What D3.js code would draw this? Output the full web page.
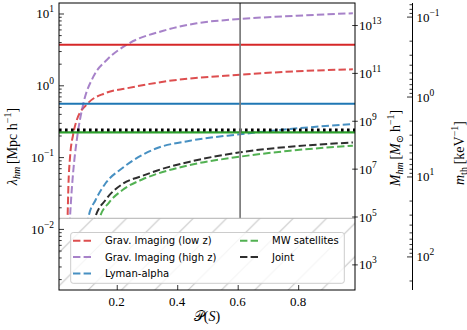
<!DOCTYPE html>
<html>
<head>
<meta charset="utf-8">
<script src="https://cdn.jsdelivr.net/npm/d3@7"></script>
<style>
body { margin: 0; background: #fff; }
</style>
</head>
<body>
<script>
// ---- data ----
// dashed curves: P(S) values and lambda_hm [Mpc/h]
var lowzP   = [0.034, 0.0374, 0.040, 0.0456, 0.0555, 0.0678, 0.1035, 0.161, 0.233, 0.354, 0.608, 0.795, 0.981];
var lowzLam = [0.008, 0.0148, 0.0387, 0.1014, 0.203, 0.329, 0.555, 0.774, 0.908, 1.122, 1.406, 1.567, 1.671];

var highzP   = [0.043, 0.0456, 0.0489, 0.0565, 0.0678, 0.0896, 0.1226, 0.1669, 0.2331, 0.354, 0.4645, 0.6076, 0.795, 0.981];
var highzLam = [0.008, 0.0148, 0.0253, 0.0661, 0.173, 0.558, 1.318, 2.249, 3.673, 5.754, 7.311, 8.375, 9.311, 10.07];

var lyaP   = [0.098, 0.1068, 0.130, 0.163, 0.219, 0.284, 0.332, 0.442, 0.608, 0.773, 0.981];
var lyaLam = [0.008, 0.0148, 0.0253, 0.0432, 0.0705, 0.1069, 0.1327, 0.169, 0.208, 0.246, 0.289];

var jointP   = [0.118, 0.128, 0.163, 0.219, 0.284, 0.332, 0.442, 0.608, 0.773, 0.981];
var jointLam = [0.008, 0.0141, 0.0253, 0.0422, 0.0546, 0.0647, 0.0863, 0.1167, 0.1396, 0.1596];

var mwP   = [0.133, 0.143, 0.1745, 0.219, 0.284, 0.332, 0.442, 0.608, 0.773, 0.981];
var mwLam = [0.008, 0.0141, 0.0233, 0.0348, 0.0488, 0.0582, 0.0776, 0.1014, 0.1227, 0.1442];

// solid / dotted horizontal levels
var lowzLevel  = 3.68;
var lyaLevel   = 0.554;
var jointLevel = 0.238;
var mwLevel    = 0.2215;

var pMark  = 0.608;     // vertical grey line
var lamCut = 0.01406;   // top of hatched region

var xTicks   = [0.2, 0.4, 0.6, 0.8];
var yTicks   = [0.01, 0.1, 1, 10];
var yExp     = ["\u22122", "\u22121", "0", "1"];
var mTicks   = [1e3, 1e5, 1e7, 1e9, 1e11, 1e13];
var mExp     = ["3", "5", "7", "9", "11", "13"];
var mthTicks = [0.1, 1, 10, 100];
var mthExp   = ["\u22121", "0", "1", "2"];

var legendNames  = ["Grav. Imaging (low z)", "Grav. Imaging (high z)", "Lyman-alpha", "MW satellites", "Joint"];
var legendColors = ["#d62728", "#9467bd", "#1f77b4", "#2ca02c", "#000000"];

// ---- setup ----
var w = 467, h = 330;
var L = 59, R = 355, T = 3, B = 290;
var serif = "'Liberation Serif', 'DejaVu Serif', serif";
var sans = "'DejaVu Sans', sans-serif";

var svg = d3.select("body").append("svg").attr("width", w).attr("height", h)
  .style("background-color", "white");

var x = d3.scaleLinear().domain([0.009, 0.988]).range([L, R]);
var y = d3.scaleLog().domain([0.00141, 14.0]).range([B, T]);
var yM = d3.scaleLog().domain([Math.pow(10, 1.93), Math.pow(10, 13.92)]).range([B, T]);
var yMth = d3.scaleLog().domain([0.0676, 263]).range([T, B]);

var defs = svg.append("defs");
defs.append("clipPath").attr("id", "plotclip").append("rect")
  .attr("x", L).attr("y", T).attr("width", R - L).attr("height", B - T);

// hatch '/' pattern
var hs = 33.33;
var pat = defs.append("pattern").attr("id", "hatch").attr("patternUnits", "userSpaceOnUse")
  .attr("width", hs).attr("height", hs).attr("patternTransform", "translate(11.6,0)");
pat.append("path")
  .attr("d", "M0," + hs + "L" + hs + ",0M-2,2L2,-2M" + (hs - 2) + "," + (hs + 2) + "L" + (hs + 2) + "," + (hs - 2))
  .attr("stroke", "#c4c4c4").attr("stroke-width", 1);

var plot = svg.append("g").attr("clip-path", "url(#plotclip)");

function pts(ps, ls) { return ps.map(function (p, i) { return [p, ls[i]]; }); }
var line = d3.line().x(function (d) { return x(d[0]); }).y(function (d) { return y(d[1]); })
  .curve(d3.curveMonotoneX);

var dashed = [
  [pts(mwP, mwLam), legendColors[3]],
  [pts(jointP, jointLam), legendColors[4]],
  [pts(lyaP, lyaLam), legendColors[2]],
  [pts(lowzP, lowzLam), legendColors[0]],
  [pts(highzP, highzLam), legendColors[1]]
];
dashed.forEach(function (s) {
  plot.append("path").datum(s[0]).attr("d", line)
    .attr("fill", "none").attr("stroke", s[1]).attr("stroke-width", 2)
    .attr("stroke-opacity", 0.82).attr("stroke-dasharray", "7.4,3.2");
});

// horizontal levels
function hline(v, color, dash, sw) {
  var l = plot.append("line").attr("x1", L).attr("x2", R).attr("y1", y(v)).attr("y2", y(v))
    .attr("stroke", color).attr("stroke-width", sw);
  if (dash) l.attr("stroke-dasharray", dash);
}
hline(lowzLevel, legendColors[0], null, 2);
hline(lyaLevel, legendColors[2], null, 2);
hline(mwLevel, legendColors[3], null, 2.2);
hline(jointLevel, "#000", "2.6,3.4", 3);

// vertical line
plot.append("line").attr("x1", x(pMark)).attr("x2", x(pMark)).attr("y1", T).attr("y2", B)
  .attr("stroke", "#7a7a7a").attr("stroke-width", 1.7);

// hatched excluded region
plot.append("rect").attr("x", L).attr("y", y(lamCut)).attr("width", R - L).attr("height", B - y(lamCut))
  .attr("fill", "white");
plot.append("rect").attr("x", L).attr("y", y(lamCut)).attr("width", R - L).attr("height", B - y(lamCut))
  .attr("fill", "url(#hatch)");
plot.append("line").attr("x1", L).attr("x2", R).attr("y1", y(lamCut)).attr("y2", y(lamCut))
  .attr("stroke", "#b0b0b0").attr("stroke-width", 1);

// ---- axes ----
function clean(g) {
  g.select(".domain").remove();
  g.selectAll(".tick line").attr("stroke", "#000").attr("stroke-width", 0.8);
}
function minorOf(sc) {
  return sc.ticks(40).filter(function (v) {
    var e = Math.log10(v); return Math.abs(e - Math.round(e)) > 1e-6;
  });
}

svg.append("g").attr("transform", "translate(" + L + ",0)")
  .call(d3.axisLeft(y).tickValues(yTicks).tickSizeInner(-5).tickSizeOuter(0).tickFormat(""))
  .call(clean);
svg.append("g").attr("transform", "translate(" + L + ",0)")
  .call(d3.axisLeft(y).tickValues(minorOf(y)).tickSizeInner(-2.7).tickSizeOuter(0).tickFormat(""))
  .call(clean);
svg.append("g").attr("transform", "translate(0," + B + ")")
  .call(d3.axisBottom(x).tickValues(xTicks).tickSizeInner(-5).tickSizeOuter(0).tickFormat(""))
  .call(clean);
// M axis: ticks in and out
svg.append("g").attr("transform", "translate(" + R + ",0)")
  .call(d3.axisRight(yM).tickValues(mTicks).tickSizeInner(2.8).tickSizeOuter(0).tickFormat(""))
  .call(clean);
svg.append("g").attr("transform", "translate(" + R + ",0)")
  .call(d3.axisRight(yM).tickValues(mTicks).tickSizeInner(-2.8).tickSizeOuter(0).tickFormat(""))
  .call(clean);
// m_th axis
var mx = 412.5;
svg.append("g").attr("transform", "translate(" + mx + ",0)")
  .call(d3.axisRight(yMth).tickValues(mthTicks).tickSizeInner(-5.5).tickSizeOuter(0).tickFormat(""))
  .call(clean);
svg.append("g").attr("transform", "translate(" + mx + ",0)")
  .call(d3.axisRight(yMth).tickValues(minorOf(yMth)).tickSizeInner(-3).tickSizeOuter(0).tickFormat(""))
  .call(clean);
svg.append("line").attr("x1", mx).attr("x2", mx).attr("y1", T).attr("y2", B)
  .attr("stroke", "#000").attr("stroke-width", 1);

// frame
svg.append("rect").attr("x", L).attr("y", T).attr("width", R - L).attr("height", B - T)
  .attr("fill", "none").attr("stroke", "#000").attr("stroke-width", 1);

// tick labels
function powText(sel, e) {
  sel.append("tspan").text("10");
  sel.append("tspan").attr("dy", -6).attr("font-size", 9.5).text(e);
}
yTicks.forEach(function (v, i) {
  svg.append("text").attr("x", L - 5).attr("y", y(v) + 5).attr("text-anchor", "end")
    .attr("font-family", serif).attr("font-size", 13).call(powText, yExp[i]);
});
mTicks.forEach(function (v, i) {
  svg.append("text").attr("x", R + 4).attr("y", yM(v) + 5)
    .attr("font-family", serif).attr("font-size", 13).call(powText, mExp[i]);
});
mthTicks.forEach(function (v, i) {
  svg.append("text").attr("x", mx + 4).attr("y", yMth(v) + 5)
    .attr("font-family", serif).attr("font-size", 13).call(powText, mthExp[i]);
});
xTicks.forEach(function (v) {
  svg.append("text").attr("x", x(v)).attr("y", 305.5).attr("text-anchor", "middle")
    .attr("font-family", serif).attr("font-size", 13).text(d3.format(".1f")(v));
});

// axis titles
function mathLabel(tx, ty, parts, rot) {
  var t = svg.append("text").attr("font-family", serif).attr("font-size", 14)
    .attr("text-anchor", "middle")
    .attr("transform", "translate(" + tx + "," + ty + ")" + (rot ? " rotate(-90)" : ""));
  parts.forEach(function (p) {
    var s = t.append("tspan").text(p[0]);
    if (p[1]) s.attr("font-style", "italic");
    if (p[2]) s.attr("dy", p[2]);
    if (p[3]) s.attr("font-size", p[3]);
  });
}
mathLabel(17, 146.5, [["\u03bb", 1], ["hm", 1, 3, 10], ["\u2009[Mpc h", 0, -3], ["\u22121", 0, -6, 10], ["]", 0, 6]], true);
mathLabel(399.5, 148, [["M", 1], ["hm", 1, 3, 10], ["\u2009[", 0, -3], ["M", 1], ["\u2299", 0, 3, 10], ["\u2009h", 0, -3], ["\u22121", 0, -6, 10], ["]", 0, 6]], true);
mathLabel(463.5, 153, [["m", 1], ["th", 0, 3, 10], ["\u2009[keV", 0, -3], ["\u22121", 0, -6, 10], ["]", 0, 6]], true);
mathLabel(207, 321, [["\ud835\udcab", 0], ["(", 0], ["S", 1], [")", 0]], false);

// ---- legend ----
var lg = svg.append("g");
lg.append("rect").attr("x", 70.7).attr("y", 232.5).attr("width", 344.3 - 70.7).attr("height", 283.3 - 232.5)
  .attr("rx", 2.5).attr("fill", "white").attr("fill-opacity", 0.8)
  .attr("stroke", "#cccccc").attr("stroke-width", 1);
var order = [0, 1, 2, 3, 4];
order.forEach(function (k) {
  var col = k < 3 ? 0 : 1, row = k < 3 ? k : k - 3;
  var hx = col === 0 ? 73 : 240, ty = 240.7 + row * 16.4;
  lg.append("line").attr("x1", hx).attr("x2", hx + 20).attr("y1", ty).attr("y2", ty)
    .attr("stroke", legendColors[k]).attr("stroke-opacity", 0.82).attr("stroke-width", 2)
    .attr("stroke-dasharray", "7.4,3.2");
  lg.append("text").attr("x", hx + 32).attr("y", ty + 3.6)
    .attr("font-family", sans).attr("font-size", 10).attr("fill", "#000").text(legendNames[k]);
});
</script>
</body>
</html>
